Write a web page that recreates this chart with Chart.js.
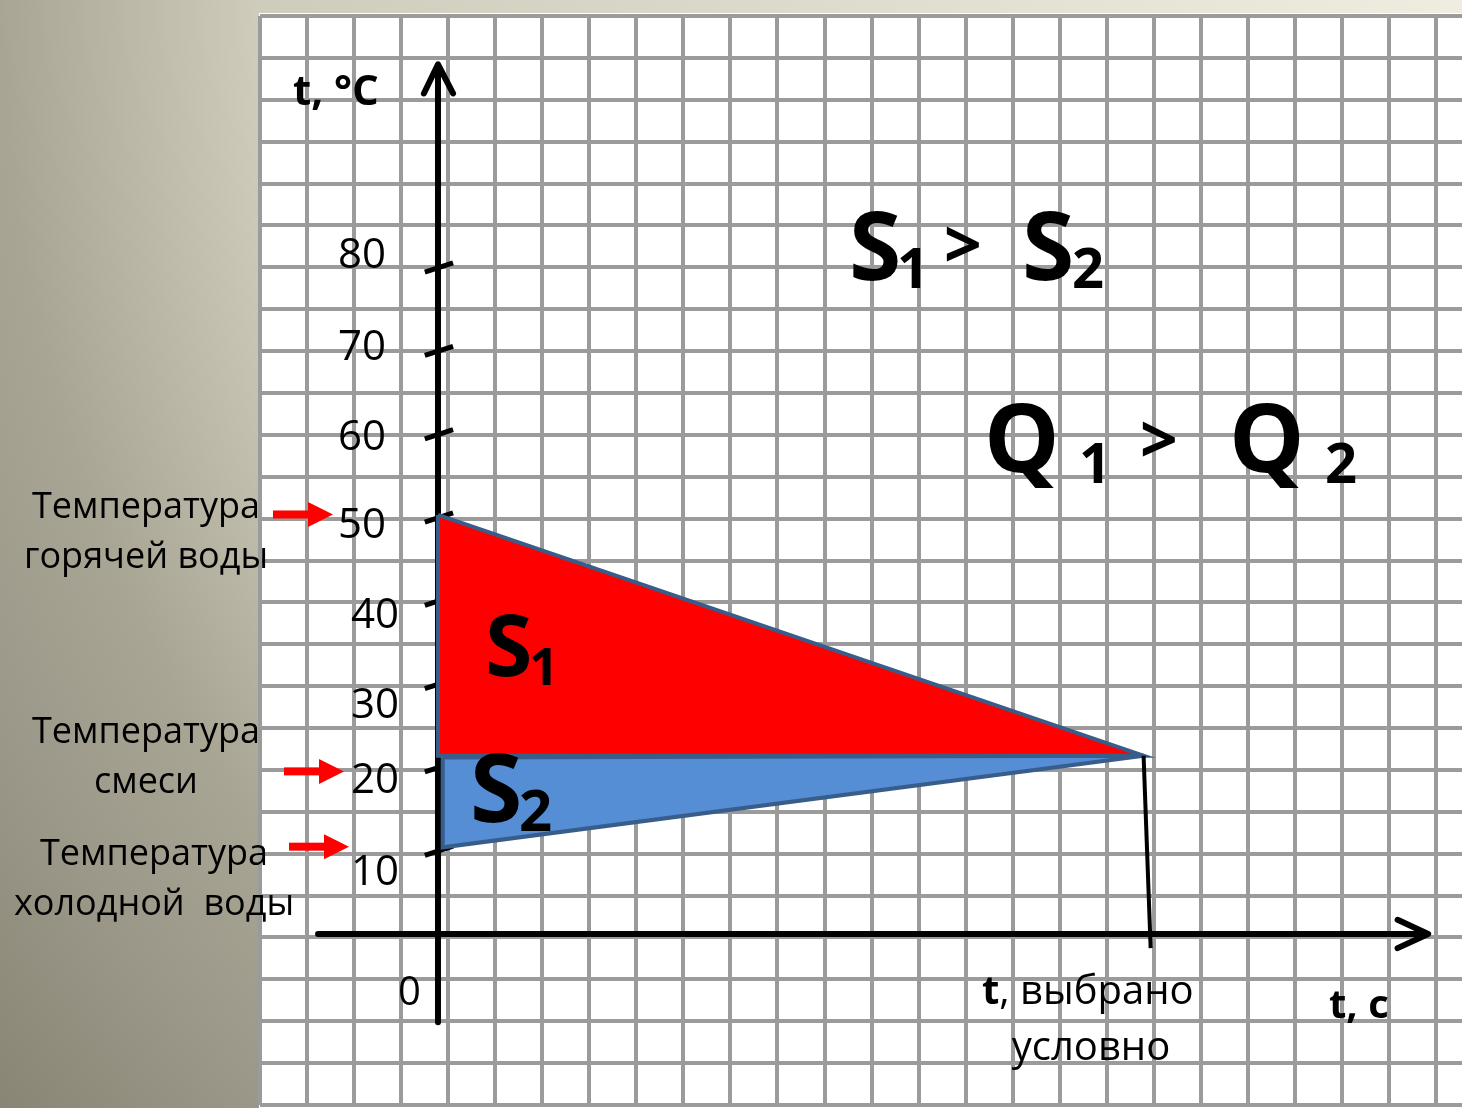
<!DOCTYPE html>
<html>
<head>
<meta charset="utf-8">
<script src="https://cdn.jsdelivr.net/npm/chart.js@4.4.0/dist/chart.umd.min.js"></script>
<style>
html, body { margin: 0; padding: 0; background: #b5b1a1; }
canvas { display: block; }
</style>
</head>
<body>
<canvas id="myChart" width="1462" height="1108"></canvas>
<script>
// temperatures, °C
var hotTemp = 50.3;
var mixTemp = 21.4;
var coldTemp = 10.4;
// moment the mixture settles (chosen arbitrarily), in grid cells
var tMix = 15;

var tempTicks = [10, 20, 30, 40, 50, 60, 70, 80];
var arrowTemps = [50, 20, 10];
var sideLabels = [
    ['Температура', 'горячей воды'],
    ['Температура', 'смеси'],
    ['Температура', 'холодной  воды']
];

// layout only (pixels)
var tickLabelX = [399, 399, 399, 399, 386, 386, 386, 386];
var tickLabelDy = [34, 26, 34, 27, 21, 16, 9, 0];
var arrowX = [273, 284, 289];
var arrowDy = [-3, 4, -4];
var sideLabelPos = [[146, 518], [146, 743], [154, 865]];

var tickMarks = [];
tempTicks.forEach(function (v) {
    tickMarks.push({x: -0.28, y: v - 0.55}, {x: 0.32, y: v + 0.55}, {x: 0, y: null});
});

var redArea = [{x: 0, y: hotTemp}, {x: tMix, y: mixTemp}, {x: 0, y: mixTemp}, {x: 0, y: hotTemp}];
var blueArea = [{x: 0.1, y: mixTemp - 0.2}, {x: tMix, y: mixTemp}, {x: 0.1, y: coldTemp}, {x: 0.1, y: mixTemp - 0.2}];
var dropLine = [{x: tMix, y: mixTemp}, {x: tMix + 0.15, y: -1.7}];
var yAxisLine = [{x: 0, y: -10.6}, {x: 0, y: 104.2}];
var yArrow = [{x: -0.3, y: 100.9}, {x: 0, y: 104.4}, {x: 0.32, y: 100.9}];
var xAxisLine = [{x: -2.55, y: 0}, {x: 21.0, y: 0}];
var xArrow = [{x: 20.4, y: 1.7}, {x: 21.05, y: 0}, {x: 20.4, y: -1.7}];

function blackLine(data, w) {
    return {
        data: data, xAxisID: 'x', yAxisID: 'y', order: 5,
        borderColor: '#000000', borderWidth: w, fill: false,
        borderCapStyle: 'round', borderJoinStyle: 'round', pointRadius: 0
    };
}

var paper = {
    id: 'paper',
    beforeDraw: function (chart) {
        var c = chart.ctx;
        var g = c.createRadialGradient(1462, 0, 0, 1462, 0, 1850);
        g.addColorStop(0, '#f0ecdf');
        g.addColorStop(0.65, '#d0ccbc');
        g.addColorStop(0.79, '#a9a595');
        g.addColorStop(0.88, '#9c9889');
        g.addColorStop(1, '#878474');
        c.save();
        c.fillStyle = g;
        c.fillRect(0, 0, chart.width, chart.height);
        c.fillStyle = '#ffffff';
        c.fillRect(259, 13, chart.width - 259, chart.height - 13);
        c.restore();
    }
};

function txt(c, s, x, y, font) {
    c.font = font;
    c.fillText(s, x, y);
}

var notes = {
    id: 'notes',
    afterDatasetsDraw: function (chart) {
        var c = chart.ctx, ys = chart.scales.y;
        c.save();
        c.fillStyle = '#000000';
        c.textBaseline = 'alphabetic';

        c.textAlign = 'right';
        tempTicks.forEach(function (v, i) {
            txt(c, String(v), tickLabelX[i], ys.getPixelForValue(v) + tickLabelDy[i], '42px "Open Sans"');
        });
        c.textAlign = 'left';
        txt(c, '0', 398, 1005, '40px "Open Sans"');
        txt(c, 't, °C', 293, 105, 'bold 42px "Open Sans"');

        // side captions
        c.textAlign = 'center';
        sideLabels.forEach(function (lines, i) {
            txt(c, lines[0], sideLabelPos[i][0], sideLabelPos[i][1], '36px "Open Sans"');
            txt(c, lines[1], sideLabelPos[i][0], sideLabelPos[i][1] + 50, '36px "Open Sans"');
        });

        // red pointers
        c.fillStyle = '#ff0000';
        arrowTemps.forEach(function (v, i) {
            var y = ys.getPixelForValue(v) + arrowDy[i], x = arrowX[i];
            c.fillRect(x, y - 4, 36, 8);
            c.beginPath();
            c.moveTo(x + 35, y - 12.5);
            c.lineTo(x + 60, y);
            c.lineTo(x + 35, y + 12.5);
            c.closePath();
            c.fill();
        });

        c.fillStyle = '#000000';
        c.textAlign = 'left';
        // S1 > S2
        txt(c, 'S', 849, 280, 'bold 95px "Open Sans"');
        txt(c, '1', 897, 288, 'bold 56px "Open Sans"');
        txt(c, '>', 944, 268, 'bold 66px "Open Sans"');
        txt(c, 'S', 1022, 280, 'bold 95px "Open Sans"');
        txt(c, '2', 1072, 288, 'bold 56px "Open Sans"');
        // Q1 > Q2
        txt(c, 'Q', 984, 472, 'bold 95px "Open Sans"');
        txt(c, '1', 1079, 483, 'bold 56px "Open Sans"');
        txt(c, '>', 1140, 463, 'bold 66px "Open Sans"');
        txt(c, 'Q', 1229, 472, 'bold 95px "Open Sans"');
        txt(c, '2', 1325, 483, 'bold 56px "Open Sans"');
        // areas
        txt(c, 'S', 485, 676, 'bold 86px "Open Sans"');
        txt(c, '1', 529, 685, 'bold 52px "Open Sans"');
        txt(c, 'S', 470, 822, 'bold 95px "Open Sans"');
        txt(c, '2', 519, 831, 'bold 58px "Open Sans"');

        // time axis captions
        c.font = 'bold 40px "Open Sans"';
        c.fillText('t', 982, 1004);
        var w = c.measureText('t').width;
        txt(c, ', выбрано', 982 + w, 1004, '40px "Open Sans"');
        c.textAlign = 'center';
        txt(c, 'условно', 1091, 1060, '40px "Open Sans"');
        c.textAlign = 'left';
        txt(c, 't, с', 1329, 1018, 'bold 40px "Open Sans"');
        c.restore();
    }
};

var gridStyle = {color: '#9b9b9b', lineWidth: 4, drawTicks: false};

new Chart(document.getElementById('myChart'), {
    type: 'line',
    data: {
        datasets: [
            {
                data: redArea, xAxisID: 'x', yAxisID: 'y', order: 1,
                fill: 'shape', backgroundColor: '#ff0000',
                borderColor: '#385d8a', borderWidth: 4, borderJoinStyle: 'miter', pointRadius: 0
            },
            {
                data: blueArea, xAxisID: 'x', yAxisID: 'y', order: 2,
                fill: 'shape', backgroundColor: '#558ed5',
                borderColor: '#385d8a', borderWidth: 4, borderJoinStyle: 'miter', pointRadius: 0
            },
            Object.assign(blackLine(dropLine, 4), {order: 0, borderCapStyle: 'butt'}),
            Object.assign(blackLine(tickMarks, 5), {borderCapStyle: 'butt'}),
            blackLine(yAxisLine, 6),
            blackLine(yArrow, 6),
            blackLine(xAxisLine, 6),
            blackLine(xArrow, 6)
        ]
    },
    options: {
        responsive: false,
        animation: false,
        events: [],
        layout: {autoPadding: false, padding: {left: 260, top: 16, right: 0, bottom: 3}},
        plugins: {legend: {display: false}, tooltip: {enabled: false}},
        elements: {line: {tension: 0}},
        scales: {
            x: {type: 'linear', display: false, min: -3.784, max: 21.769},
            y: {type: 'linear', display: false, min: -20.53, max: 110.2},
            gx: {
                type: 'linear', axis: 'x', position: 'bottom', min: 0, max: 25.55,
                ticks: {display: false, stepSize: 1, includeBounds: false},
                grid: gridStyle, border: {display: false}
            },
            gy: {
                type: 'linear', axis: 'y', position: 'left', min: 0, max: 26,
                ticks: {display: false, stepSize: 1},
                grid: gridStyle, border: {display: false}
            }
        }
    },
    plugins: [paper, notes]
});
</script>
</body>
</html>
